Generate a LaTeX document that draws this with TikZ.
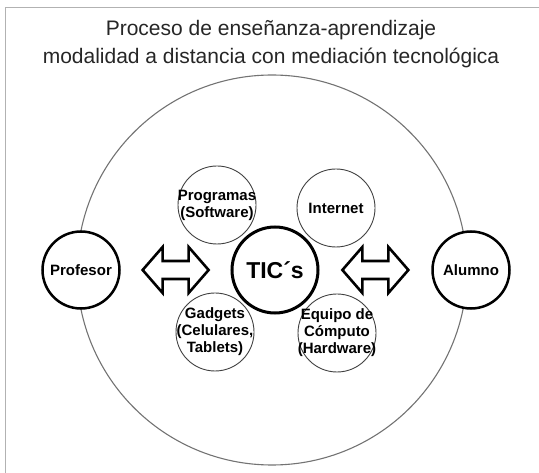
\documentclass[tikz,border=0pt]{standalone}
\usepackage{fontspec}
\setmainfont{Liberation Sans}
\usetikzlibrary{calc}

\tikzset{
  actor/.style={circle, draw, line width=2.5pt, minimum size=77pt, inner sep=0pt,
    font=\fontsize{15}{17}\selectfont\bfseries},
  satelite/.style={circle, draw=black!75, line width=0.9pt, minimum size=78pt, inner sep=0pt},
  rotulo/.style={align=center, inner sep=0pt, font=\fontsize{15}{17}\selectfont\bfseries},
  bloque/.style={draw, line width=2.6pt, fill=white, line join=miter},
}

\begin{document}
\begin{tikzpicture}[x=1pt,y=-1pt]
			\useasboundingbox (0,0) rectangle (539,473);
			\draw[black!30, line width=0.8pt] (5,473) -- (5,7) -- (539,7);
			\node[align=center, text=black!85, font=\fontsize{21}{28}\selectfont] (titulo) at (271,44)
				{Proceso de enseñanza-aprendizaje\\modalidad a distancia con mediación tecnológica};
			\draw[black!55, line width=1.1pt] (272,270) circle (195pt);
			% actores y TIC
			\node[actor, fill=white] (profesor) at (81,270) {Profesor};
			\node[actor, fill=white] (alumno) at (471,270) {Alumno};
			\node[actor, minimum size=86pt, line width=3pt, font=\fontsize{23}{25}\selectfont\bfseries] (tics) at (275,270) {TIC´s};
			% herramientas
			\node[satelite] (programas) at (217,205) {};
			\node[satelite] (internet) at (336,208) {};
			\node[satelite] (gadgets) at (215,332) {};
			\node[satelite] (equipo) at (337,333) {};
			\node[rotulo] (programas-txt) at (programas) {Programas\\(Software)};
			\node[rotulo] (internet-txt) at (internet) {Internet};
			\node[rotulo] (gadgets-txt) at (gadgets) {Gadgets\\(Celulares,\\Tablets)};
			\node[rotulo] (equipo-txt) at (equipo) {Equipo de\\Cómputo\\(Hardware)};
			% flechas dobles
			\foreach \a/\b in {profesor.east/tics.west,tics.east/alumno.west}
				\draw[bloque, shift={($(\a)!0.5!(\b)$)}] (-33,0) -- (-13,-23) -- (-13,-9) -- (13,-9) -- (13,-23)
					-- (33,0) -- (13,23) -- (13,9) -- (-13,9) -- (-13,23) -- cycle;
		\end{tikzpicture}
\end{document}
